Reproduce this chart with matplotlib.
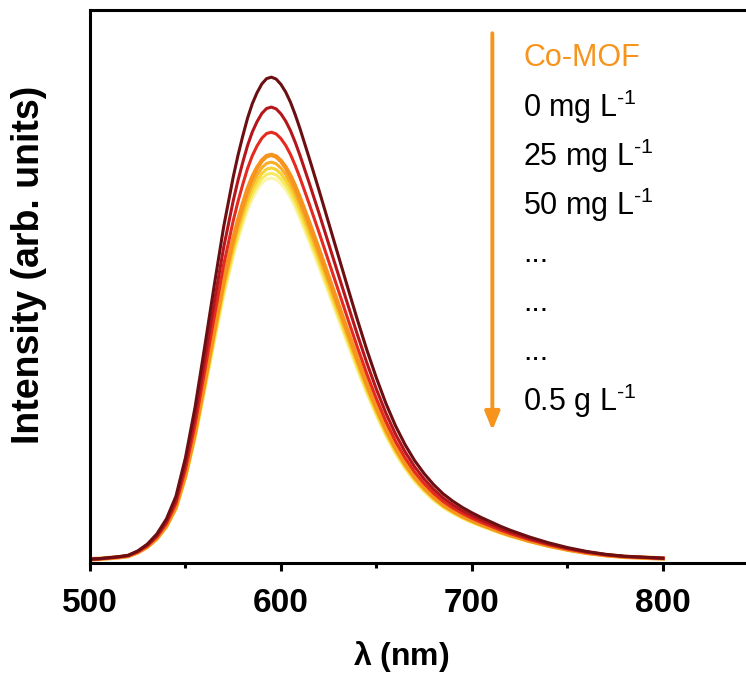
import numpy as np
import matplotlib
matplotlib.use('Agg')
import matplotlib.pyplot as plt

plt.rcParams['font.family'] = ['Liberation Sans', 'DejaVu Sans']
plt.rcParams['mathtext.fontset'] = 'custom'
plt.rcParams['mathtext.rm'] = 'Liberation Sans'
plt.rcParams['mathtext.it'] = 'Liberation Sans:italic'
plt.rcParams['mathtext.bf'] = 'Liberation Sans:bold'
plt.rcParams['mathtext.bfit'] = 'Liberation Sans:italic:bold'

# wavelength grid (nm), denser around the maximum
wavelength = [500, 505, 510, 515, 520, 525, 530, 535, 540, 545,
              550, 555, 560, 565, 570, 575, 577.5, 580, 582.5, 585,
              587.5, 590, 592.5, 595, 597.5, 600, 602.5, 605, 607.5, 610,
              615, 620, 625, 630, 635, 640, 645, 650, 655, 660,
              665, 670, 675, 680, 685, 690, 695, 700, 705, 710,
              715, 720, 725, 730, 735, 740, 745, 750, 755, 760,
              765, 770, 775, 780, 785, 790, 795, 800]

# normalised emission profile
profile = [0.002, 0.003, 0.005, 0.007, 0.010, 0.019, 0.033, 0.054, 0.085, 0.132,
           0.212, 0.316, 0.44, 0.567, 0.69, 0.793, 0.838, 0.878, 0.915, 0.945,
           0.968, 0.986, 0.997, 1.0, 0.996, 0.985, 0.969, 0.948, 0.922, 0.893,
           0.83, 0.765, 0.698, 0.631, 0.564, 0.498, 0.435, 0.377, 0.324, 0.278,
           0.239, 0.206, 0.179, 0.156, 0.137, 0.122, 0.109, 0.098, 0.088, 0.079,
           0.070, 0.062, 0.055, 0.048, 0.042, 0.036, 0.031, 0.026, 0.022, 0.018,
           0.015, 0.012, 0.010, 0.008, 0.007, 0.006, 0.005, 0.004]

# peak heights of each spectrum (top to bottom)
peaks = [1.0, 0.938, 0.886, 0.839, 0.824, 0.812, 0.801, 0.791]
colors = ['#6b0f12', '#b5161b', '#e52a1f', '#f7941d', '#f8ae28', '#f6d232', '#f7ea5e', '#fbf5ae']
widths = [2.2, 2.2, 2.2, 3.2, 2.2, 2.2, 2.2, 2.2]

labels = ['Co-MOF', r'0 mg L$^{\text{-1}}$', r'25 mg L$^{\text{-1}}$', r'50 mg L$^{\text{-1}}$',
          '...', '...', '...', r'0.5 g L$^{\text{-1}}$']
label_colors = ['#f7941d'] + ['black'] * 7

fig = plt.figure(figsize=(7.46, 6.77), dpi=100)
ax = fig.add_axes([0.1206, 0.1684, 0.896, 0.8168])

x = np.array(wavelength)
prof = np.array(profile)
for p, c, w in reversed(list(zip(peaks, colors, widths))):
    ax.plot(x, p * prof, color=c, lw=w, solid_joinstyle='round')

ax.set_xlim(500, 850)
ax.set_ylim(-0.006, 1.139)
ax.set_yticks([])
ax.set_xticks([500, 600, 700, 800])
ax.set_xticks([550, 650, 750], minor=True)
ax.tick_params(axis='x', which='major', direction='out', length=6, width=2.2,
               labelsize=24, pad=12)
ax.tick_params(axis='x', which='minor', direction='out', length=3.5, width=2.2)
for lab in ax.get_xticklabels():
    lab.set_fontweight('bold')
for s in ax.spines.values():
    s.set_linewidth(2.2)

ax.set_xlabel(r'$\boldsymbol{\lambda}$ (nm)', fontsize=23, fontweight='bold')
ax.xaxis.set_label_coords(0.465, -0.138)
ax.set_ylabel('Intensity (arb. units)', fontsize=27, fontweight='bold')
ax.yaxis.set_label_coords(-0.064, 0.54)

# arrow
ax.annotate('', xy=(0.602, 0.24), xytext=(0.602, 0.958), xycoords='axes fraction',
            arrowprops=dict(arrowstyle='-|>,head_length=1.1,head_width=0.45',
                            color='#f7941d', lw=2.8, shrinkA=0, shrinkB=0))

y0 = 0.914
for i, (t, c) in enumerate(zip(labels, label_colors)):
    ax.text(0.648, y0 - i * 0.0888, t, transform=ax.transAxes, fontsize=22,
            color=c, ha='left', va='center')

fig.savefig('out.png', dpi=100)
